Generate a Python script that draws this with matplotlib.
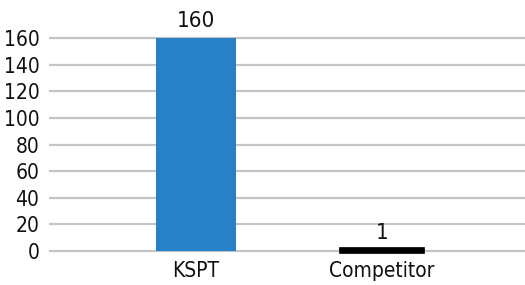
import matplotlib
matplotlib.use('Agg')
from matplotlib import pyplot as plt

categories = ['KSPT', 'Competitor']
values = [160, 1]
bar_colors = ['#2681C8', '#000000']
y_ticks = [0, 20, 40, 60, 80, 100, 120, 140, 160]

plt.rcParams['font.family'] = ['DejaVu Sans']
plt.rcParams['font.stretch'] = 'condensed'

fig = plt.figure(figsize=(5.25, 2.85), dpi=100)
ax = fig.add_axes([0.0933, 0.105, 0.9067, 0.785])

x = range(len(categories))
bars = ax.bar(x, values, width=0.43, color=bar_colors, zorder=3)
# thin competitor bar gets a thick outline so it shows up
bars[1].set_edgecolor('#000000')
bars[1].set_linewidth(4.1)

ax.bar_label(bars, labels=[str(v) for v in values], padding=5,
             fontsize=16, color='#111111')

ax.set_xlim(-0.79, 1.769)
ax.set_ylim(-3, 165)
ax.set_yticks(y_ticks)
ax.set_xticks(list(x))
ax.set_xticklabels(categories)
ax.tick_params(axis='both', length=0, labelsize=15, labelcolor='#111111')
ax.tick_params(axis='y', pad=7)
ax.tick_params(axis='x', pad=4)

ax.grid(axis='y', color='#c4c4c4', linewidth=1.6, zorder=0)
for s in ax.spines.values():
    s.set_visible(False)

plt.savefig('out.png', dpi=100)
